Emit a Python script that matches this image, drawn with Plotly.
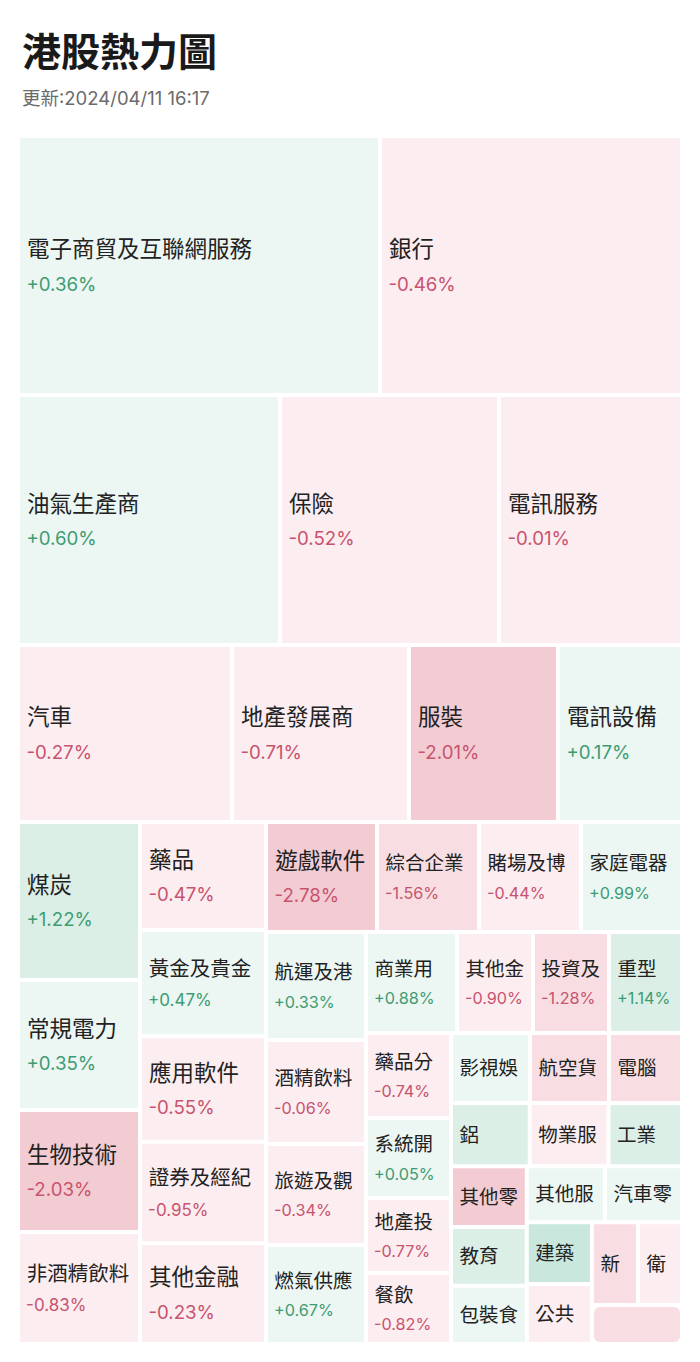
import plotly.graph_objects as go

# ---- data ----
sectors = [
    "電子商貿及互聯網服務", "銀行", "油氣生產商", "保險", "電訊服務",
    "汽車", "地產發展商", "服裝", "電訊設備",
    "煤炭", "常規電力", "生物技術", "非酒精飲料",
    "藥品", "黃金及貴金", "應用軟件", "證券及經紀", "其他金融",
    "遊戲軟件", "綜合企業", "賭場及博", "家庭電器",
    "航運及港", "酒精飲料", "旅遊及觀", "燃氣供應",
    "商業用", "其他金", "投資及", "重型",
    "藥品分", "系統開", "地產投", "餐飲",
    "影視娛", "航空貨", "電腦",
    "鋁", "物業服", "工業",
    "其他零", "教育", "包裝食",
    "其他服", "汽車零",
    "建築", "公共",
    "新", "衛", "",
]

weights = [
    93758, 78218, 65500, 54750, 45750,
    37878, 31329, 26373, 21948,
    19276, 15860, 14884, 13664,
    13600, 13400, 13300, 12800, 12700,
    12210, 11220, 11220, 11110,
    10800, 10400, 10100, 9900,
    9191, 7676, 7676, 7373,
    7225, 6800, 6375, 6035,
    5530, 5530, 5110,
    4977, 4977, 4650,
    4600, 4450, 4420,
    4368, 4312,
    4030, 3900,
    3818, 3652, 3510,
]

changes = [
    0.36, -0.46, 0.60, -0.52, -0.01,
    -0.27, -0.71, -2.01, 0.17,
    1.22, 0.35, -2.03, -0.83,
    -0.47, 0.47, -0.55, -0.95, -0.23,
    -2.78, -1.56, -0.44, 0.99,
    0.33, -0.06, -0.34, 0.67,
    0.88, -0.90, -1.28, 1.14,
    -0.74, 0.05, -0.77, -0.82,
    0.30, -1.30, -1.20,
    1.30, -0.40, 1.20,
    -2.10, 1.10, 0.40,
    0.30, 0.20,
    2.20, -0.30,
    -1.20, -0.50, -1.10,
]

title_text = "港股熱力圖"
subtitle_text = "更新:2024/04/11 16:17"

# ---- styling helpers ----
GREEN_TEXT = "#3e9c73"
RED_TEXT = "#c8536e"
LABEL_COLOR = "#222222"
FONT = "Inter, 'Noto Sans CJK TC', sans-serif"
LEAD = "\u2009"  # thin lead-in so text sits a little further from the tile edge


def fill_color(c):
    if c >= 0:
        if c < 1:
            return "#ecf6f2"
        if c < 2:
            return "#dcefe7"
        return "#c9e7dc"
    if c > -1:
        return "#fcedf0"
    if c > -2:
        return "#f8dee3"
    return "#f3ccd3"


def label_size(v, name):
    if v >= 20000:
        return 22.5
    if v >= 12000:
        return 22.5 if len(name) <= 4 else 20.5
    return 19.5


texts, base_sizes, fills = [], [], []
for name, v, c in zip(sectors, weights, changes):
    ls = label_size(v, name)
    fills.append(fill_color(c))
    base_sizes.append(round(ls * 1.14, 1))
    lab = f"<span style='font-size:{ls}px;color:{LABEL_COLOR}'>{LEAD}{name}</span>"
    if v >= 6000:
        ps = round(ls * 0.83, 1)
        col = GREEN_TEXT if c >= 0 else RED_TEXT
        lab += f"<br><span style='font-size:{ps}px;color:{col}'>{LEAD}{c:+.2f}%</span>"
    texts.append(lab if name else "")

ids = [f"s{i}" for i in range(len(sectors))]

fig = go.Figure(
    go.Treemap(
        ids=ids,
        labels=sectors,
        parents=[""] * len(sectors),
        values=weights,
        sort=True,
        text=texts,
        textinfo="text",
        textposition="middle left",
        textfont=dict(family=FONT, size=base_sizes, color=LABEL_COLOR),
        marker=dict(
            colors=fills,
            line=dict(width=0),
            cornerradius=6,
            pad=dict(t=0, l=0, r=0, b=0),
        ),
        tiling=dict(packing="squarify", squarifyratio=1, pad=4),
        pathbar=dict(visible=False),
        hoverinfo="skip",
    )
)

H = 1362
top, bottom = 138, 20
plot_h = H - top - bottom

fig.update_layout(
    width=700,
    height=H,
    margin=dict(l=20, r=20, t=top, b=bottom),
    paper_bgcolor="white",
    plot_bgcolor="white",
    annotations=[
        dict(
            text=title_text, x=0, y=1 + (top - 49) / plot_h,
            xref="paper", yref="paper", xanchor="left", yanchor="middle",
            showarrow=False, xshift=0,
            font=dict(family="'Noto Sans CJK TC', sans-serif", size=39,
                      color="#1a1a1a", weight=700),
        ),
        dict(
            text=subtitle_text, x=0, y=1 + (top - 98) / plot_h,
            xref="paper", yref="paper", xanchor="left", yanchor="middle",
            showarrow=False, xshift=0,
            font=dict(family=FONT, size=18.5, color="#6b6b6b"),
        ),
    ],
)

fig.write_html("out.html")
